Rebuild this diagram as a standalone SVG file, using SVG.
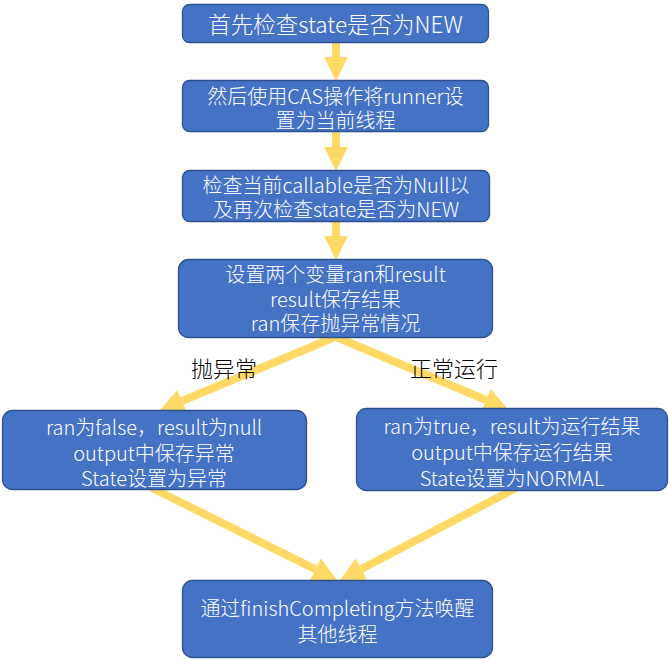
<svg xmlns="http://www.w3.org/2000/svg" width="669" height="659" viewBox="0 0 669 659">
  <style>
    .box { fill: #4472C4; stroke: #2F528F; stroke-width: 1.3; }
    .t { fill: #ffffff; font-family: "Noto Sans CJK SC", "Noto Sans", sans-serif; font-weight: 300; font-size: 20px; text-anchor: middle; dominant-baseline: central; }
    .big { font-size: 22.5px; }
    .lbl { fill: #000000; font-family: "Noto Sans CJK SC", sans-serif; font-weight: 300; font-size: 22px; text-anchor: middle; dominant-baseline: central; }
    .arrow { stroke: #FFD966; stroke-width: 8; fill: none; marker-end: url(#head); }
  </style>
  <defs>
    <marker id="head" viewBox="0 0 10 10" refX="0" refY="5" markerWidth="3" markerHeight="3" orient="auto" markerUnits="strokeWidth">
      <path d="M0,0 L10,5 L0,10 z" fill="#FFD966"/>
    </marker>
  </defs>

  <g id="connectors">
    <line class="arrow" x1="336" y1="43" x2="336" y2="57"/>
    <line class="arrow" x1="336" y1="132" x2="336" y2="147"/>
    <line class="arrow" x1="336" y1="222" x2="336" y2="236"/>
    <line class="arrow" x1="335" y1="337" x2="182" y2="401"/>
    <line class="arrow" x1="336" y1="337" x2="486" y2="400"/>
    <line class="arrow" x1="152" y1="488" x2="315.5" y2="569.3"/>
    <line class="arrow" x1="516" y1="488" x2="361.3" y2="569"/>
  </g>

  <g id="label-exception">
    <text class="lbl" x="224" y="367">抛异常</text>
  </g>
  <g id="label-normal">
    <text class="lbl" x="454" y="367">正常运行</text>
  </g>

  <g id="n1">
    <rect class="box" x="182.5" y="4.5" width="306" height="38" rx="7"/>
    <text class="t big" x="335.5" y="23">首先检查state是否为NEW</text>
  </g>

  <g id="n2">
    <rect class="box" x="182.5" y="80.5" width="306" height="51" rx="7"/>
    <text class="t" x="335.5" y="95">然后使用CAS操作将runner设</text>
    <text class="t" x="335.5" y="119">置为当前线程</text>
  </g>

  <g id="n3">
    <rect class="box" x="182.5" y="170.5" width="307" height="51" rx="7"/>
    <text class="t" x="336" y="184">检查当前callable是否为Null以</text>
    <text class="t" x="336" y="208">及再次检查state是否为NEW</text>
  </g>

  <g id="n4">
    <rect class="box" x="178.5" y="259.5" width="314" height="78" rx="10"/>
    <text class="t" x="335.5" y="273">设置两个变量ran和result</text>
    <text class="t" x="335.5" y="298">result保存结果</text>
    <text class="t" x="335.5" y="322">ran保存抛异常情况</text>
  </g>

  <g id="n5">
    <rect class="box" x="2.5" y="410.5" width="304" height="79" rx="10"/>
    <text class="t" x="154" y="426">ran为false，result为null</text>
    <text class="t" x="154" y="452">output中保存异常</text>
    <text class="t" x="154" y="477">State设置为异常</text>
  </g>

  <g id="n6">
    <rect class="box" x="356.5" y="408.5" width="311" height="82" rx="10"/>
    <text class="t" x="512" y="425">ran为true，result为运行结果</text>
    <text class="t" x="512" y="451">output中保存运行结果</text>
    <text class="t" x="512" y="477">State设置为NORMAL</text>
  </g>

  <g id="n7">
    <rect class="box" x="182.5" y="580.5" width="310" height="77" rx="10"/>
    <text class="t" x="337.5" y="607">通过finishCompleting方法唤醒</text>
    <text class="t" x="337.5" y="633">其他线程</text>
  </g>
</svg>
